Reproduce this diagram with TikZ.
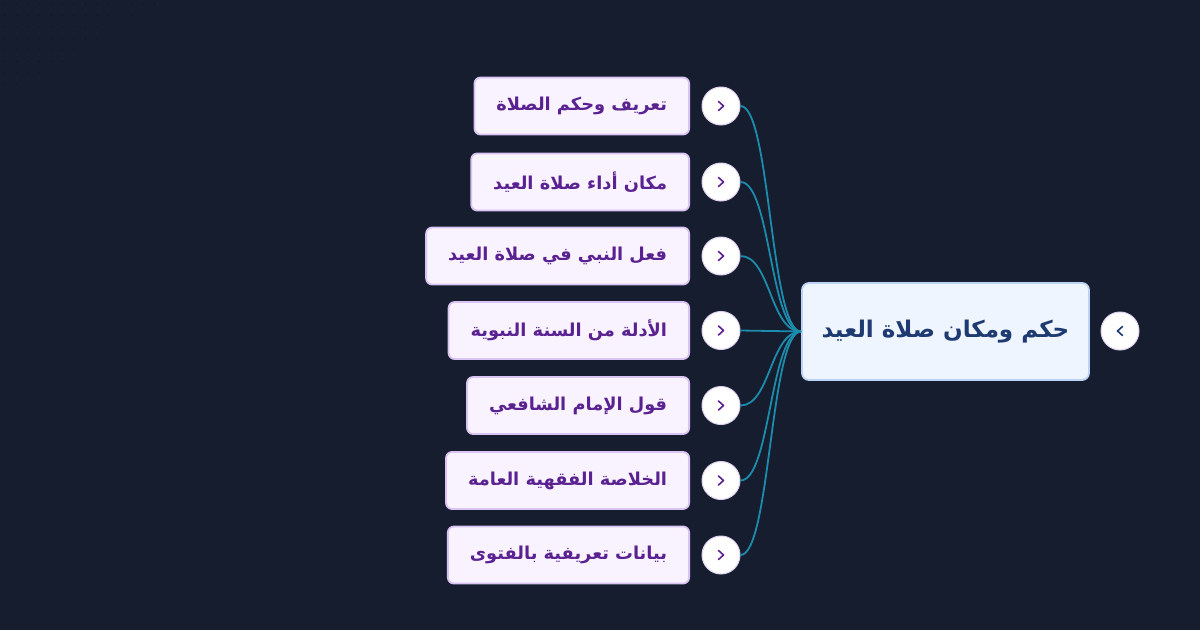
\documentclass[tikz,border=0pt]{standalone}
\usepackage{fontspec}
\newfontfamily\arabicfont[Script=Arabic]{DejaVu Sans}
\TeXXeTstate=1
\definecolor{bgc}{HTML}{161D2F}
\definecolor{dotc}{HTML}{10172A}
\definecolor{childfill}{HTML}{F9F3FF}
\definecolor{childborder}{HTML}{D9C3F3}
\definecolor{childtext}{HTML}{5A2290}
\definecolor{rootfill}{HTML}{EEF5FF}
\definecolor{rootborder}{HTML}{BCD3F5}
\definecolor{roottext}{HTML}{1E3A70}
\definecolor{circborder}{HTML}{DDD0F0}
\definecolor{connc}{HTML}{1B8CAC}
\begin{document}
\begin{tikzpicture}[x=1pt,y=-1pt,
  child/.style={draw=childborder, line width=1.8pt, fill=childfill, rounded corners=6pt,
    minimum height=57pt, inner xsep=22pt, text=childtext, anchor=east,
    font=\arabicfont\bfseries\fontsize{17.8}{20}\selectfont},
  rootbox/.style={draw=rootborder, line width=1.8pt, fill=rootfill, rounded corners=7pt,
    minimum height=97pt, minimum width=287pt, text=roottext,
    font=\arabicfont\bfseries\fontsize{23}{26}\selectfont},
  toggle/.style={circle, draw=circborder, line width=1pt, fill=white, minimum size=38pt, inner sep=0pt},
  chev/.style={line width=1.6pt, line cap=round, line join=round},
  conn/.style={draw=connc, line width=1.8pt}]
\useasboundingbox (0,0) rectangle (1200,630);
\fill[bgc] (0,0) rectangle (1200,630);
% faint dot texture, top-left corner
\foreach \i in {0,...,13} {
  \foreach \j in {0,...,8} {
    \pgfmathsetmacro{\xx}{5+\i*11.5}
    \pgfmathsetmacro{\yy}{4+\j*11.5}
    \pgfmathparse{(\xx/160)+(\yy/96) < 1.05 ? 1 : 0}
    \ifnum\pgfmathresult=1
      \fill[dotc] (\xx,\yy) circle (0.9);
    \fi
  }
}
% root
\node[rootbox] (root) at (945.5,331.5) {\beginR حكم ومكان صلاة العيد\endR};
\node[toggle] (rt) at (1120,331) {};
% "<" chevron (apex on the left)
\draw[chev, draw=roottext] (1122.5,326.5) -- (1117.5,331) -- (1122.5,335.5);
% children
\node[child] (n1) at (690,106) {\beginR تعريف وحكم الصلاة\endR};
\node[child] (n2) at (690,182) {\beginR مكان أداء صلاة العيد\endR};
\node[child] (n3) at (690,256) {\beginR فعل النبي في صلاة العيد\endR};
\node[child] (n4) at (690,330.5) {\beginR الأدلة من السنة النبوية\endR};
\node[child] (n5) at (690,405.5) {\beginR قول الإمام الشافعي\endR};
\node[child] (n6) at (690,480.5) {\beginR الخلاصة الفقهية العامة\endR};
\node[child] (n7) at (690,555) {\beginR بيانات تعريفية بالفتوى\endR};
\foreach \k/\yy in {1/106,2/182,3/256,4/330.5,5/405.5,6/480.5,7/555} {
  \node[toggle] (c\k) at (721,\yy) {};
  % ">" chevron (apex on the right)
  \draw[chev, draw=childtext] (718.5,{\yy-4.5}) -- (723.5,\yy) -- (718.5,{\yy+4.5});
  \draw[conn] (c\k.east) .. controls +(30,0) and +(-31,0) .. (root.west);
}
\end{tikzpicture}
\end{document}
